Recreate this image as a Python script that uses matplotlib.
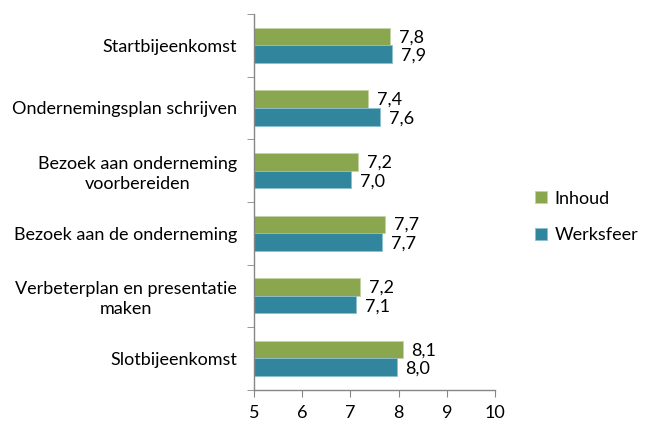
import numpy as np
import matplotlib.pyplot as plt

plt.rcParams['font.family'] = ['Lato', 'DejaVu Sans']

categories = ['Startbijeenkomst', 'Ondernemingsplan schrijven',
              'Bezoek aan onderneming\nvoorbereiden', 'Bezoek aan de onderneming',
              'Verbeterplan en presentatie\nmaken', 'Slotbijeenkomst']
inhoud = [7.82, 7.37, 7.16, 7.72, 7.20, 8.08]
werksfeer = [7.86, 7.61, 7.01, 7.66, 7.12, 7.96]
inhoud_labels = ['7,8', '7,4', '7,2', '7,7', '7,2', '8,1']
werksfeer_labels = ['7,9', '7,6', '7,0', '7,7', '7,1', '8,0']

green = '#8AA64E'
teal = '#31859C'
grey = '#868686'
fs = 13

fig = plt.figure(figsize=(6.48, 4.26), dpi=100)
ax = fig.add_axes([0.392, 0.085, 0.372, 0.882])

n = len(categories)
y = np.arange(n)[::-1].astype(float)
h = 0.28

ax.barh(y + h / 2, np.array(inhoud) - 5, left=5, height=h, color=green,
        edgecolor='#C5D4A3', linewidth=0.6, label='Inhoud')
ax.barh(y - h / 2, np.array(werksfeer) - 5, left=5, height=h, color=teal,
        edgecolor='#8CC0CF', linewidth=0.6, label='Werksfeer')

for yi, v, lab in zip(y, inhoud, inhoud_labels):
    ax.text(v + 0.18, yi + h / 2 - 0.01, lab, va='center', ha='left', fontsize=fs)
for yi, v, lab in zip(y, werksfeer, werksfeer_labels):
    ax.text(v + 0.18, yi - h / 2 - 0.03, lab, va='center', ha='left', fontsize=fs)

ax.set_xlim(5, 10)
ax.set_ylim(-0.5, n - 0.5)
ax.set_xticks(range(5, 11))
ax.tick_params(axis='x', length=5, color=grey, labelsize=fs, pad=6)

# category labels without tick marks, tick marks at boundaries
ax.set_yticks(y)
ax.set_yticklabels(categories, fontsize=fs, linespacing=1.3)
ax.tick_params(axis='y', length=0, pad=12)
ax.set_yticks(np.arange(n + 1) - 0.5, minor=True)
ax.tick_params(axis='y', which='minor', length=5, color=grey)
for lbl in ax.get_yticklabels():
    lbl.set_multialignment('center')

for s in ['top', 'right']:
    ax.spines[s].set_visible(False)
for s in ['left', 'bottom']:
    ax.spines[s].set_color(grey)
    ax.spines[s].set_linewidth(1.0)

ax.legend(loc='center left', bbox_to_anchor=(1.1, 0.46), frameon=False,
          fontsize=fs, handlelength=0.65, handleheight=0.65, labelspacing=1.15,
          handletextpad=0.4)

fig.savefig('out.png', dpi=100)
